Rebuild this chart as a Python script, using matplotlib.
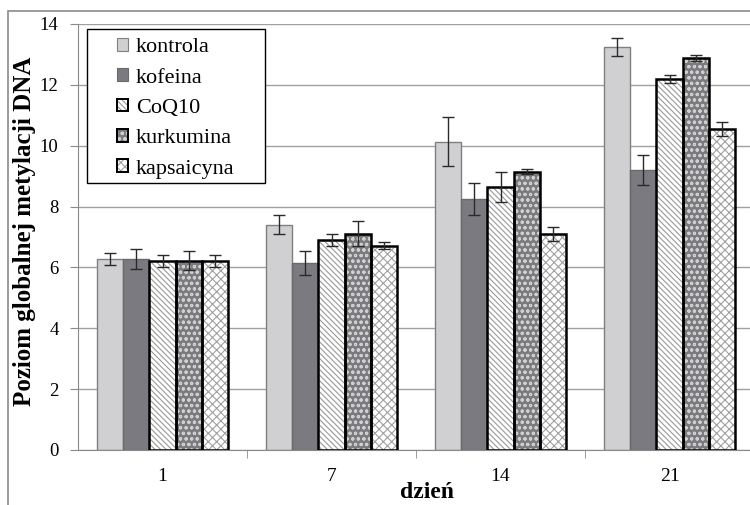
import numpy as np
import matplotlib
matplotlib.use("Agg")
from matplotlib import pyplot as plt
from matplotlib.patches import Patch, Rectangle

# data
days = ["1", "7", "14", "21"]
groups = ["kontrola", "kofeina", "CoQ10", "kurkumina", "kapsaicyna"]
kontrola = [6.27, 7.41, 10.13, 13.25]
kofeina = [6.27, 6.15, 8.25, 9.20]
coq10 = [6.22, 6.90, 8.65, 12.19]
kurkumina = [6.22, 7.11, 9.15, 12.88]
kapsaicyna = [6.22, 6.72, 7.10, 10.56]
err_kontrola = [0.20, 0.30, 0.80, 0.30]
err_kofeina = [0.32, 0.40, 0.52, 0.50]
err_coq10 = [0.20, 0.20, 0.50, 0.14]
err_kurkumina = [0.32, 0.40, 0.09, 0.10]
err_kapsaicyna = [0.20, 0.10, 0.24, 0.23]

values = [kontrola, kofeina, coq10, kurkumina, kapsaicyna]
errors = [err_kontrola, err_kofeina, err_coq10, err_kurkumina, err_kapsaicyna]

# (face, hatch colour, hatch, outline colour, outline width)
styles = [
    ("#d0d0d3", "#d0d0d3", None, "#7f7f7f", 1.0),
    ("#7a7a80", "#7a7a80", None, "#6a6a6a", 1.0),
    ("white", "#999999", "\\\\\\\\\\\\", "black", 1.8),
    ("#7a7a7f", "#d0d0d0", "ooo", "black", 1.8),
    ("white", "#a0a0a0", "xxxx", "black", 1.8),
]

plt.rcParams["font.family"] = ["Liberation Serif", "DejaVu Serif"]
plt.rcParams["hatch.linewidth"] = 0.8

fig = plt.figure(figsize=(7.5, 5.05), dpi=100)
ax = fig.add_axes([78 / 750, 55 / 505, 676 / 750, 426 / 505])

# outer chart border
fig.patches.append(Rectangle((8 / 750, -0.1), 1.2, 1.1 - 11 / 505,
                             transform=fig.transFigure, fill=False,
                             edgecolor="#8a8a8a", linewidth=1.2, zorder=0))

x = np.arange(len(days))
w = 0.154
handles = []
for i, (vals, errs, st) in enumerate(zip(values, errors, styles)):
    face, hcol, hatch, ecol, lw = st
    pos = x + (i - 2) * w
    ax.bar(pos, vals, w, color=face, edgecolor=hcol, hatch=hatch,
           linewidth=0, zorder=2)
    ax.bar(pos, vals, w, fill=False, edgecolor=ecol, linewidth=lw, zorder=3)
    ax.errorbar(pos, vals, yerr=errs, fmt="none", ecolor="#2a2a2a",
                elinewidth=1.0, capsize=4, capthick=1.0, zorder=4)
    handles.append((Patch(facecolor=face, edgecolor=hcol, hatch=hatch, linewidth=0),
                    Patch(fill=False, edgecolor=ecol, linewidth=lw * 0.8)))

ax.set_xlim(-0.5, 3.5)
ax.set_ylim(0, 14)
ax.set_yticks(np.arange(0, 15, 2))
ax.set_xticks(x)
ax.set_xticklabels(days)
ax.set_xticks(np.arange(0.5, 3.0, 1.0), minor=True)
ax.tick_params(axis="x", which="major", length=0, labelsize=14, pad=13)
ax.tick_params(axis="x", which="minor", length=6, color="#8a8a8a", direction="out")
ax.tick_params(axis="y", length=6, color="#8a8a8a", labelsize=13.5, pad=8)
ax.yaxis.grid(True, color="#a0a0a0", linewidth=1.0, zorder=0)
ax.set_axisbelow(True)
for s in ["top", "right"]:
    ax.spines[s].set_visible(False)
ax.spines["left"].set_color("#8a8a8a")
ax.spines["bottom"].set_color("#8a8a8a")

fig.text(25 / 750, 1 - 231 / 505, "Poziom globalnej metylacji DNA",
         rotation=90, ha="center", va="center", fontsize=18, fontweight="bold")
fig.text(427 / 750, 1 - 492 / 505, "dzień", ha="center", va="center",
         fontsize=17, fontweight="bold")

# legend box drawn by hand (the original has wide side padding)
ax.add_patch(Rectangle((9 / 676, 267 / 426), 178 / 676, 154 / 426,
                       transform=ax.transAxes, facecolor="white",
                       edgecolor="black", linewidth=1.0, zorder=5))
leg = ax.legend(handles, groups, loc="upper left",
                bbox_to_anchor=(39 / 676, 412 / 426), borderaxespad=0,
                fontsize=16, handlelength=0.5, handleheight=0.5,
                handletextpad=0.35, labelspacing=0.5, borderpad=0,
                frameon=False)
leg.set_zorder(6)

fig.savefig("out.png", dpi=100)
